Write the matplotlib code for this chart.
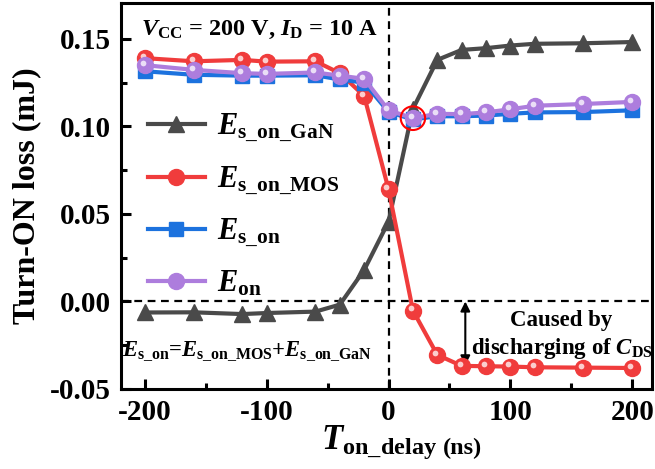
import matplotlib
matplotlib.use("Agg")
import matplotlib.pyplot as plt
from matplotlib.patches import Ellipse
from matplotlib.transforms import offset_copy
from matplotlib.ticker import MultipleLocator

plt.rcParams["font.family"] = ["Liberation Serif", "DejaVu Serif"]
plt.rcParams["font.weight"] = "bold"
plt.rcParams["axes.labelweight"] = "bold"
plt.rcParams["mathtext.fontset"] = "custom"
plt.rcParams["mathtext.rm"] = "Liberation Serif:bold"
plt.rcParams["mathtext.bf"] = "Liberation Serif:bold"
plt.rcParams["mathtext.it"] = "Liberation Serif:bold:italic"

# Turn-on delay sweep (ns) and the measured energies (mJ)
t_delay = [-200, -160, -120, -100, -60, -40, -20, 0, 20, 40, 60, 80, 100, 120, 160, 200]
e_s_on_gan = [-0.0063, -0.0062, -0.0072, -0.0066, -0.0058, -0.0018, 0.018, 0.0456,
              0.110, 0.138, 0.1437, 0.1447, 0.1462, 0.1472, 0.1475, 0.1482]
e_s_on_mos = [0.139, 0.1372, 0.138, 0.137, 0.1372, 0.1304, 0.1174, 0.064,
              -0.0052, -0.0305, -0.0368, -0.0370, -0.0372, -0.0376, -0.0378, -0.0380]
e_s_on = [0.1315, 0.1295, 0.1290, 0.1290, 0.1292, 0.1268, 0.1250, 0.1082,
          0.1040, 0.1058, 0.1058, 0.1062, 0.1072, 0.1080, 0.1082, 0.1092]
e_on = [0.135, 0.1323, 0.1304, 0.1300, 0.1308, 0.1290, 0.1272, 0.1092,
        0.1047, 0.1072, 0.1070, 0.1080, 0.1098, 0.1118, 0.1128, 0.1140]

C_GAN = "#4a4a4a"
C_MOS = "#f03c3c"
C_SON = "#1c72de"
C_ON = "#ad7ddd"

fig = plt.figure(figsize=(6.55, 4.69), dpi=100)
ax = fig.add_axes([0.184, 0.1706, 0.811, 0.823])

# reference lines at zero delay / zero energy
ax.axhline(0, color="black", ls=(0, (3.5, 2.5)), lw=1.6, zorder=1)
ax.axvline(0, color="black", ls=(0, (3.5, 2.5)), lw=1.6, zorder=1)

def sphere(x, y, color, zorder, ms=11.5):
    # shaded ball marker: coloured disc with a pale highlight
    ax.plot(x, y, ls="none", marker="o", ms=ms, color=color,
            mec=color, zorder=zorder)
    tr = offset_copy(ax.transData, fig=fig, x=-1.5, y=1.5, units="points")
    ax.plot(x, y, ls="none", marker="o", ms=ms * 0.36, color="white", alpha=0.75,
            mec="none", transform=tr, zorder=zorder + 0.1)

l_gan, = ax.plot(t_delay, e_s_on_gan, color=C_GAN, lw=3, marker="^", ms=12,
                 mec=C_GAN, zorder=3)
l_mos, = ax.plot(t_delay, e_s_on_mos, color=C_MOS, lw=3, zorder=4)
sphere(t_delay, e_s_on_mos, C_MOS, 4)
l_son, = ax.plot(t_delay, e_s_on, color=C_SON, lw=3, marker="s", ms=10,
                 mec=C_SON, zorder=5)
l_on, = ax.plot(t_delay, e_on, color=C_ON, lw=3, zorder=6)
sphere(t_delay, e_on, C_ON, 6)

# legend proxies with ball markers
h_mos, = ax.plot([], [], color=C_MOS, lw=3, marker="o", ms=11.5)
h_on, = ax.plot([], [], color=C_ON, lw=3, marker="o", ms=11.5)
leg = ax.legend([l_gan, h_mos, l_son, h_on],
                [r"$\mathit{E}_{\mathrm{s\_on\_GaN}}$",
                 r"$\mathit{E}_{\mathrm{s\_on\_MOS}}$",
                 r"$\mathit{E}_{\mathrm{s\_on}}$",
                 r"$\mathit{E}_{\mathrm{on}}$"],
                loc="upper left", bbox_to_anchor=(0.0, 0.79), frameon=False,
                fontsize=22, handlelength=1.85, labelspacing=0.64,
                handletextpad=0.4)

# highlight of the minimum E_on point
ax.add_patch(Ellipse((t_delay[8], e_on[8]), 20, 0.0135, fill=False,
                     ec="red", lw=1.5, zorder=8))

ax.text(-203, 0.1615, r"$\mathit{V}_{\mathrm{CC}}$ = 200 V, $\mathit{I}_{\mathrm{D}}$ = 10 A",
        fontsize=17.5, va="top", ha="left")
ax.text(-219, -0.0285,
        r"$\mathit{E}_{\mathrm{s\_on}}$=$\mathit{E}_{\mathrm{s\_on\_MOS}}$+$\mathit{E}_{\mathrm{s\_on\_GaN}}$",
        fontsize=16.3, va="center", ha="left")
ax.annotate("", xy=(63, -0.0365), xytext=(63, 0.0),
            arrowprops=dict(arrowstyle="<|-|>", color="black", lw=1.5,
                            mutation_scale=14, shrinkA=0, shrinkB=0))
ax.text(142, -0.0195, "Caused by\ndischarging of $\\mathit{C}_{\\mathrm{DS}}$",
        fontsize=16.5, ha="center", va="center", linespacing=1.25)

ax.set_xlim(-220, 216)
ax.set_ylim(-0.05, 0.1705)
ax.xaxis.set_minor_locator(MultipleLocator(50))
ax.yaxis.set_minor_locator(MultipleLocator(0.025))
ax.set_yticks([-0.05, 0.0, 0.05, 0.10, 0.15])
ax.set_yticklabels(["-0.05", "0.00", "0.05", "0.10", "0.15"])
ax.set_xticks([-200, -100, 0, 100, 200])
ax.set_xticklabels(["-200", "-100", "0", "100", "200"])
ax.tick_params(axis="both", which="major", direction="in", length=7, width=2.2,
               labelsize=21, top=False, right=False, pad=7)
ax.tick_params(axis="both", which="minor", direction="in", length=4, width=2.2,
               top=False, right=False)
for s in ax.spines.values():
    s.set_linewidth(2.2)

ax.set_ylabel("Turn-ON loss (mJ)", fontsize=23, labelpad=6)

# x-axis title: large symbol with subscript, followed by the unit
t_lbl = fig.text(0.49, 0.042, r"$\mathit{T}_{\mathrm{on\_delay}}$", fontsize=25,
                 ha="left", va="baseline")
fig.canvas.draw()
bb = t_lbl.get_window_extent()
fig.text(bb.x1 / fig.bbox.width + 0.008, 0.032, "(ns)", fontsize=17.5,
         ha="left", va="baseline")

fig.savefig("out.png", dpi=100)
